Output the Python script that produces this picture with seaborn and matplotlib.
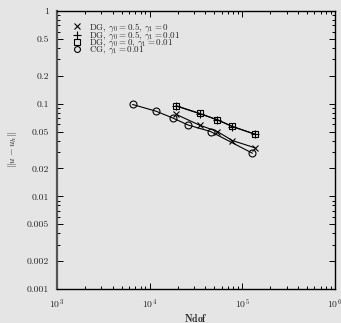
import numpy as np
import pandas as pd
import matplotlib
matplotlib.use("Agg")
import matplotlib.pyplot as plt
import matplotlib.ticker as mticker
import seaborn as sns

# Data
ndof_dg = [19300, 34600, 53800, 78100, 137000]
err_dg_g05_g10 = [0.0766, 0.0586, 0.050, 0.040, 0.0334]
err_dg_g05_g101 = [0.0945, 0.0780, 0.0668, 0.0566, 0.0467]
err_dg_g00_g101 = [0.0951, 0.0785, 0.0671, 0.0568, 0.0469]
ndof_cg = [6540, 11700, 17900, 25800, 45500, 128400]
err_cg = [0.098, 0.083, 0.0698, 0.059, 0.050, 0.0292]

labels = [r"DG, $\gamma_0 = 0.5$, $\gamma_1 = 0$",
          r"DG, $\gamma_0 = 0.5$, $\gamma_1 = 0.01$",
          r"DG, $\gamma_0 = 0$, $\gamma_1 = 0.01$",
          r"CG, $\gamma_1 = 0.01$"]
yticks = [1, 0.5, 0.2, 0.1, 0.05, 0.02, 0.01, 0.005, 0.002, 0.001]
ytick_labels = ["1", "0.5", "0.2", "0.1", "0.05", "0.02", "0.01", "0.005", "0.002", "0.001"]

sns.set_theme(style="white")
plt.rcParams['font.family'] = ['cmr10', 'DejaVu Serif']
plt.rcParams['mathtext.fontset'] = 'cm'
plt.rcParams['axes.formatter.use_mathtext'] = True

bg = "#e5e5e5"
fig = plt.figure(figsize=(3.41, 3.23), dpi=100, facecolor=bg)
ax = fig.add_axes([57/341, 1 - 289/323, (335-57)/341, (289-11)/323])
ax.set_facecolor(bg)

series = [
    (ndof_dg, err_dg_g05_g10, "x", 4.5),
    (ndof_dg, err_dg_g05_g101, "+", 6),
    (ndof_dg, err_dg_g00_g101, "s", 4.5),
    (ndof_cg, err_cg, "o", 5),
]
for (xs, ys, m, ms), lab in zip(series, labels):
    df = pd.DataFrame({"x": xs, "y": ys})
    sns.lineplot(data=df, x="x", y="y", ax=ax, color="black", linewidth=0.8,
                 marker=m, markersize=ms, markerfacecolor="none",
                 markeredgecolor="black", markeredgewidth=0.8, label=lab)

ax.set_xscale("log")
ax.set_yscale("log")
ax.set_xlim(1e3, 1e6)
ax.set_ylim(1e-3, 1)

ax.xaxis.set_major_locator(mticker.FixedLocator([1e3, 1e4, 1e5, 1e6]))
ax.xaxis.set_major_formatter(mticker.FixedFormatter([r"$10^3$", r"$10^4$", r"$10^5$", r"$10^6$"]))
ax.xaxis.set_minor_locator(mticker.LogLocator(base=10, subs=np.arange(2, 10), numticks=20))
ax.xaxis.set_minor_formatter(mticker.NullFormatter())

ax.yaxis.set_major_locator(mticker.FixedLocator(yticks))
ax.yaxis.set_major_formatter(mticker.FixedFormatter(ytick_labels))
ax.yaxis.set_minor_locator(mticker.LogLocator(base=10, subs=[3, 4, 6, 7, 8, 9], numticks=20))
ax.yaxis.set_minor_formatter(mticker.NullFormatter())

ax.tick_params(which="both", direction="in", top=True, right=True, left=True, bottom=True,
               color="black", labelsize=7, pad=6)
ax.tick_params(which="major", length=4, width=0.7)
ax.tick_params(which="minor", length=2, width=0.7)
for s in ax.spines.values():
    s.set_color("black")
    s.set_linewidth(1.0)
ax.spines["left"].set_color("#555555")
ax.spines["left"].set_linewidth(1.6)

ax.set_xlabel(r"$\mathbf{Ndof}$", fontsize=7, labelpad=0.5)
ax.set_ylabel(r"$\Vert u - u_h \Vert$", fontsize=7, labelpad=5)

leg = ax.legend(loc="upper left", frameon=False, fontsize=6.5, handlelength=1.1,
                handletextpad=0.7, labelspacing=-0.5, borderaxespad=0.0,
                borderpad=0.0, markerscale=0.85, bbox_to_anchor=(0.055, 0.963))
for h in leg.legend_handles:
    h.set_linestyle("none")

fig.savefig("out.png", dpi=100, facecolor=bg)
